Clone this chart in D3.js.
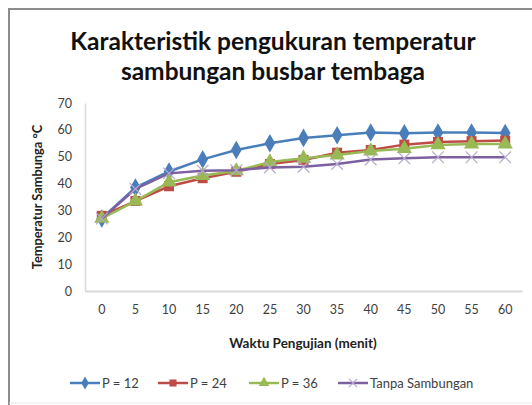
<!DOCTYPE html>
<html>
<head>
<meta charset="utf-8">
<script src="https://cdn.jsdelivr.net/npm/d3@7/dist/d3.min.js"></script>
<style>
  body { margin: 0; background: #fff; }
  text { font-family: Lato, "Open Sans", sans-serif; }
</style>
</head>
<body>
<div id="chart"></div>
<script>
// Data
const minutes = [0, 5, 10, 15, 20, 25, 30, 35, 40, 45, 50, 55, 60];
const p12 = [27, 38.5, 44.5, 49, 52.5, 55, 57, 58, 59, 58.7, 59, 59, 58.8];
const p24 = [28, 33.5, 39, 42, 44.4, 47.3, 48.8, 51.5, 52.5, 54.5, 55.5, 55.8, 56];
const p36 = [27, 33.5, 40.5, 43, 44.7, 48, 49.4, 50.6, 52.1, 53, 54.4, 54.7, 54.7];
const tanpa = [27, 38, 43.8, 44.8, 45, 46, 46.3, 47.3, 49, 49.4, 49.8, 49.8, 49.8];
const yTicks = [0, 10, 20, 30, 40, 50, 60, 70];

const series = [
  { name: "P = 12", values: p12, color: "#4A7EBB", marker: "diamond" },
  { name: "P = 24", values: p24, color: "#BE4B48", marker: "square" },
  { name: "P = 36", values: p36, color: "#98B954", marker: "triangle" },
  { name: "Tanpa Sambungan", values: tanpa, color: "#7D60A0", marker: "cross" }
];

const W = 532, H = 405;
const svg = d3.select("#chart").append("svg")
  .attr("width", W).attr("height", H);

// frame
svg.append("path")
  .attr("d", `M9,${H} V9 H${W}`)
  .attr("fill", "none").attr("stroke", "#8c8c8c").attr("stroke-width", 2);
svg.append("line")
  .attr("x1", 9).attr("x2", W).attr("y1", 403).attr("y2", 403)
  .attr("stroke", "#e6e6e6").attr("stroke-width", 1);

// title
svg.append("text")
  .attr("x", 273).attr("y", 50)
  .attr("text-anchor", "middle")
  .style("font-size", "24.5px").style("font-weight", "bold").style("fill", "#111")
  .text("Karakteristik pengukuran temperatur");
svg.append("text")
  .attr("x", 273).attr("y", 80)
  .attr("text-anchor", "middle")
  .style("font-size", "24.5px").style("font-weight", "bold").style("fill", "#111")
  .text("sambungan busbar tembaga");

const plot = { left: 85, right: 522, top: 103, bottom: 291 };

const x = d3.scaleBand()
  .domain(minutes)
  .range([plot.left, plot.right]);

const y = d3.scaleLinear()
  .domain([0, 70])
  .range([plot.bottom, plot.top]);

// axes
const yAxis = svg.append("g")
  .attr("transform", `translate(${plot.left},0)`)
  .call(d3.axisLeft(y).tickValues(yTicks).tickSize(0).tickPadding(13));
yAxis.select(".domain").attr("stroke", "#d9d9d9").attr("stroke-width", 1.5);
yAxis.selectAll("text").style("font-size", "12.5px").style("fill", "#404040")
  .style("font-family", "Lato, sans-serif");

const xAxis = svg.append("g")
  .attr("transform", `translate(0,${plot.bottom})`)
  .call(d3.axisBottom(x).tickSize(0).tickPadding(14));
xAxis.select(".domain").attr("stroke", "#d9d9d9").attr("stroke-width", 2);
xAxis.selectAll("text").style("font-size", "12.5px").style("fill", "#404040")
  .style("font-family", "Lato, sans-serif");

// axis titles
svg.append("text")
  .attr("transform", "translate(42,197) rotate(-90)")
  .attr("text-anchor", "middle")
  .style("font-size", "12.8px").style("font-weight", "bold").style("fill", "#222")
  .text("Temperatur Sambunga °C");

svg.append("text")
  .attr("x", 303).attr("y", 348)
  .attr("text-anchor", "middle")
  .style("font-size", "13.5px").style("font-weight", "bold").style("fill", "#222")
  .text("Waktu Pengujian (menit)");

// markers
function drawMarker(g, type, color, size) {
  if (type === "diamond") {
    g.append("path").attr("d", d3.symbol(d3.symbolDiamond, size * 10)())
      .attr("fill", color);
  } else if (type === "square") {
    g.append("path").attr("d", d3.symbol(d3.symbolSquare, size * 10)())
      .attr("fill", color);
  } else if (type === "triangle") {
    g.append("path").attr("d", d3.symbol(d3.symbolTriangle, size * 10)())
      .attr("fill", color);
  } else {
    g.append("path").attr("d", d3.symbol(d3.symbolX, size * 9)())
      .attr("fill", "none").attr("stroke", "#b7a8cf").attr("stroke-width", 1.2);
  }
}

const line = d3.line()
  .x((d, i) => x(minutes[i]) + x.bandwidth() / 2)
  .y(d => y(d));

series.forEach(s => {
  const g = svg.append("g");
  g.append("path")
    .datum(s.values)
    .attr("d", line)
    .attr("fill", "none")
    .attr("stroke", s.color)
    .attr("stroke-width", 2.5);
  s.values.forEach((v, i) => {
    const m = g.append("g")
      .attr("transform", `translate(${x(minutes[i]) + x.bandwidth() / 2},${y(v)})`);
    drawMarker(m, s.marker, s.color, 10);
  });
});

// legend
const legendX = [70, 158, 249, 338];
series.forEach((s, i) => {
  const g = svg.append("g").attr("transform", `translate(${legendX[i]},383)`);
  g.append("line").attr("x1", 0).attr("x2", 30).attr("y1", 0).attr("y2", 0)
    .attr("stroke", s.color).attr("stroke-width", 2.5);
  const m = g.append("g").attr("transform", "translate(15,0)");
  drawMarker(m, s.marker, s.color, 5);
  g.append("text").attr("x", 32).attr("y", 4.5)
    .style("font-size", "13px").style("fill", "#404040")
    .text(s.name);
});
</script>
</body>
</html>
